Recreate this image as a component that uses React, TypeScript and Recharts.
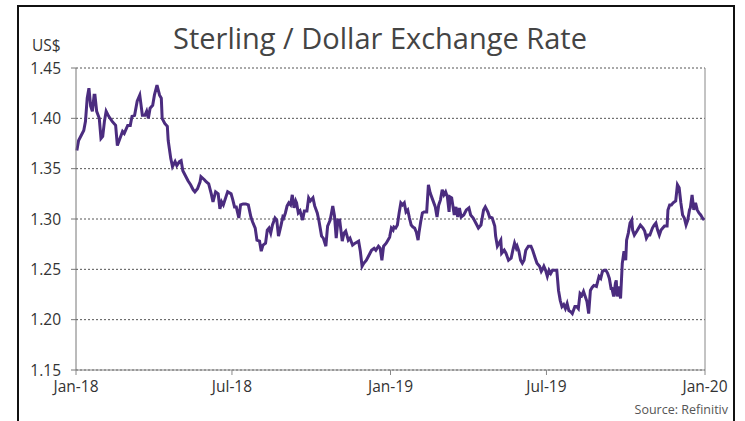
import { LineChart, Line, XAxis, YAxis, CartesianGrid, ReferenceLine } from 'recharts';

// GBP/USD, x = days since 1 Jan 2018, y = US$ per £
const h1_2018: [number, number][] = [
  [1, 1.368], [3, 1.378], [6, 1.383], [9, 1.388], [11, 1.397], [13, 1.42], [15, 1.43], [17, 1.412],
  [19, 1.407], [21, 1.423], [22, 1.423], [24, 1.407], [27, 1.4], [29, 1.38], [31, 1.382], [33, 1.397],
  [35, 1.407], [38, 1.402], [42, 1.397], [46, 1.393], [48, 1.373], [51, 1.38], [54, 1.387], [56, 1.385],
  [60, 1.393], [63, 1.393], [65, 1.402], [68, 1.403], [71, 1.417], [74, 1.423], [77, 1.403], [80, 1.403],
  [82, 1.407], [84, 1.4], [86, 1.41], [89, 1.413], [91, 1.423], [94, 1.433], [97, 1.423], [99, 1.42],
  [100, 1.4], [103, 1.395], [106, 1.392], [107, 1.378], [110, 1.36], [112, 1.352], [115, 1.357], [117, 1.353],
  [120, 1.357], [122, 1.358], [124, 1.348], [127, 1.343], [130, 1.338], [133, 1.334], [136, 1.329], [138, 1.327],
  [141, 1.33], [144, 1.337], [145, 1.342], [149, 1.339], [151, 1.337], [154, 1.335], [157, 1.325], [159, 1.317],
  [162, 1.327], [165, 1.325], [167, 1.31], [169, 1.317], [171, 1.314], [174, 1.322], [176, 1.327], [180, 1.325],
];

const h2_2018: [number, number][] = [
  [182, 1.319], [184, 1.312], [186, 1.312], [189, 1.301], [191, 1.314], [194, 1.315], [197, 1.315], [200, 1.314],
  [203, 1.302], [205, 1.297], [208, 1.291], [210, 1.279], [213, 1.278], [215, 1.268], [217, 1.274], [220, 1.276],
  [222, 1.289], [224, 1.291], [226, 1.286], [228, 1.294], [231, 1.301], [233, 1.299], [235, 1.283], [238, 1.294],
  [240, 1.302], [241, 1.301], [243, 1.306], [245, 1.313], [247, 1.316], [249, 1.314], [251, 1.324], [253, 1.311],
  [255, 1.318], [256, 1.316], [258, 1.306], [260, 1.308], [263, 1.299], [265, 1.308], [268, 1.308], [270, 1.321],
  [272, 1.318], [275, 1.321], [277, 1.313], [280, 1.306], [282, 1.298], [285, 1.283], [287, 1.281], [290, 1.273],
  [292, 1.293], [295, 1.299], [298, 1.313], [300, 1.303], [302, 1.281], [304, 1.299], [306, 1.299], [309, 1.278],
  [311, 1.286], [313, 1.288], [316, 1.279], [318, 1.281], [321, 1.274], [324, 1.276], [328, 1.278], [330, 1.268],
  [332, 1.253], [334, 1.256], [337, 1.259], [340, 1.264], [343, 1.269], [346, 1.271], [348, 1.269], [351, 1.273],
  [353, 1.271], [355, 1.259], [357, 1.273], [360, 1.276], [362, 1.279],
];

const h1_2019: [number, number][] = [
  [364, 1.282], [366, 1.291], [368, 1.289], [369, 1.292], [371, 1.291], [373, 1.294], [375, 1.306], [377, 1.316],
  [379, 1.314], [381, 1.316], [383, 1.307], [385, 1.309], [387, 1.301], [389, 1.294], [391, 1.292], [393, 1.291],
  [395, 1.287], [397, 1.279], [398, 1.286], [400, 1.297], [402, 1.306], [404, 1.307], [407, 1.307], [409, 1.334],
  [411, 1.326], [414, 1.319], [417, 1.312], [419, 1.302], [421, 1.314], [423, 1.319], [425, 1.329], [427, 1.324],
  [429, 1.327], [431, 1.322], [433, 1.307], [434, 1.322], [436, 1.321], [439, 1.304], [441, 1.312], [443, 1.302],
  [445, 1.311], [447, 1.302], [450, 1.304], [453, 1.309], [456, 1.311], [458, 1.304], [461, 1.301], [464, 1.296],
  [467, 1.291], [470, 1.294], [473, 1.309], [475, 1.312], [478, 1.307], [480, 1.302], [483, 1.301], [486, 1.293],
  [487, 1.283], [489, 1.273], [491, 1.276], [493, 1.279], [494, 1.266], [497, 1.269], [499, 1.266], [502, 1.259],
  [505, 1.261], [507, 1.269], [509, 1.276], [511, 1.271], [512, 1.273], [514, 1.268], [516, 1.259], [518, 1.256],
  [520, 1.259], [522, 1.269], [525, 1.273], [528, 1.273], [530, 1.269], [533, 1.261], [535, 1.256], [538, 1.253],
  [540, 1.248], [542, 1.251], [543, 1.253], [545, 1.249],
];

const h2_2019: [number, number][] = [
  [547, 1.243], [549, 1.249], [551, 1.246], [553, 1.249], [556, 1.249], [558, 1.249], [560, 1.229], [562, 1.219],
  [564, 1.213], [566, 1.215], [568, 1.211], [570, 1.216], [572, 1.209], [574, 1.208], [576, 1.206], [579, 1.213],
  [581, 1.213], [583, 1.211], [585, 1.226], [587, 1.224], [589, 1.228], [591, 1.223], [593, 1.218], [595, 1.206],
  [597, 1.229], [599, 1.232], [601, 1.234], [604, 1.233], [607, 1.243], [609, 1.241], [611, 1.248], [613, 1.249],
  [615, 1.249], [617, 1.246], [619, 1.241], [621, 1.231], [622, 1.231], [624, 1.223], [626, 1.236], [627, 1.239],
  [628, 1.223], [630, 1.233], [632, 1.221], [634, 1.256], [636, 1.268], [638, 1.259], [639, 1.279], [641, 1.286],
  [643, 1.296], [645, 1.299], [646, 1.289], [648, 1.284], [651, 1.288], [653, 1.291], [655, 1.294], [658, 1.291],
  [660, 1.288], [662, 1.281], [664, 1.284], [666, 1.284], [669, 1.291], [671, 1.294], [673, 1.296], [675, 1.289],
  [677, 1.284], [679, 1.289], [681, 1.291], [683, 1.293], [686, 1.293], [687, 1.309], [689, 1.314], [691, 1.314],
  [693, 1.316], [696, 1.318], [698, 1.334], [700, 1.331], [702, 1.316], [704, 1.304], [706, 1.301], [708, 1.294],
  [710, 1.299], [712, 1.309], [713, 1.311], [715, 1.324], [717, 1.309], [719, 1.316], [721, 1.309], [723, 1.306],
  [725, 1.304], [727, 1.301], [729, 1.299],
];

const xTicks = [0, 181, 365, 546, 730];
const xTickLabels = ['Jan-18', 'Jul-18', 'Jan-19', 'Jul-19', 'Jan-20'];
const yTicks = [1.15, 1.2, 1.25, 1.3, 1.35, 1.4, 1.45];

const data = [...h1_2018, ...h2_2018, ...h1_2019, ...h2_2019].map(([day, rate]) => ({ day, rate }));

const font = '"Open Sans", Lato, sans-serif';

export default function App() {
  return (
    <div style={{ position: 'absolute', left: 0, top: 0, width: 745, height: 421, overflow: 'hidden', fontFamily: font, background: '#fff' }}>
      <div style={{ position: 'absolute', left: 17, top: 5, width: 714, height: 430, border: '2px solid #111' }} />
      <div style={{ position: 'absolute', left: 130, width: 500, top: 18, textAlign: 'center', fontSize: 29, color: '#444', whiteSpace: 'nowrap' }}>
        Sterling / Dollar Exchange Rate
      </div>
      <div style={{ position: 'absolute', left: 32, top: 34, fontSize: 15.5, color: '#333' }}>US$</div>
      <div style={{ position: 'absolute', right: 17, top: 401, fontSize: 12.5, color: '#555' }}>Source: Refinitiv</div>
      <div style={{ position: 'absolute', left: 0, top: 0 }}>
        <LineChart width={745} height={421} data={data} margin={{ top: 68, right: 40, left: 30, bottom: 21 }}>
          <CartesianGrid horizontal vertical={false} stroke="#555" strokeDasharray="2 2" />
          <XAxis
            dataKey="day"
            type="number"
            domain={[0, 730]}
            ticks={xTicks}
            tickFormatter={(v: number) => xTickLabels[xTicks.indexOf(v)]}
            stroke="#888"
            tickSize={5}
            tickMargin={6}
            tick={{ fill: '#333', fontSize: 15.5, fontFamily: font }}
            interval={0}
          />
          <YAxis
            domain={[1.15, 1.45]}
            ticks={yTicks}
            tickFormatter={(v: number) => v.toFixed(2)}
            stroke="#777"
            width={46}
            tickSize={5}
            tickMargin={10}
            tick={{ fill: '#333', fontSize: 15.5, fontFamily: font }}
            interval={0}
          />
          <ReferenceLine x={730} stroke="#888" />
          <Line type="linear" dataKey="rate" stroke="#4B2C7F" strokeWidth={3} dot={false} isAnimationActive={false} />
        </LineChart>
      </div>
    </div>
  );
}
